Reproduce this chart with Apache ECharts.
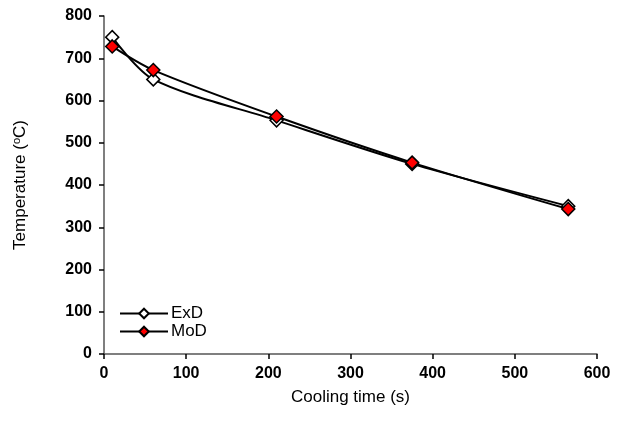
<!DOCTYPE html>
<html>
<head>
<meta charset="utf-8">
<script src="https://cdn.jsdelivr.net/npm/echarts@6/dist/echarts.min.js"></script>
<style>
  html, body { margin: 0; padding: 0; background: #fff; }
  #chart { width: 622px; height: 428px; }
</style>
</head>
<body>
<div id="chart"></div>
<script>
// cooling time (s) and temperatures (C)
var times = [10, 60, 210, 375, 565];
var exdTemps = [750, 650, 553, 450, 350];
var modTemps = [728, 672, 562, 453, 343];
var xTicks = [0, 100, 200, 300, 400, 500, 600];
var yTicks = [0, 100, 200, 300, 400, 500, 600, 700, 800];

function pairs(xs, ys) {
    var out = [];
    for (var i = 0; i < xs.length; i++) out.push([xs[i], ys[i]]);
    return out;
}

var myChart = echarts.init(document.getElementById('chart'));
var axisLine = { lineStyle: { color: '#555', width: 1.5 } };
var labelStyle = { fontFamily: 'Liberation Sans, Arial', fontWeight: 'bold', fontSize: 16, color: '#000' };

var option = {
    animation: false,
    backgroundColor: '#fff',
    grid: { left: 104, right: 25, top: 16, bottom: 74 },
    legend: {
        orient: 'vertical',
        left: 114,
        top: 300,
        itemWidth: 48,
        itemHeight: 12,
        itemGap: 1,
        textStyle: { fontFamily: 'Liberation Sans, Arial', fontSize: 17, color: '#000', padding: [0, 0, 0, -2] },
        data: ['ExD', 'MoD']
    },
    xAxis: {
        type: 'value',
        min: xTicks[0],
        max: xTicks[xTicks.length - 1],
        interval: 100,
        name: 'Cooling time (s)',
        nameLocation: 'middle',
        nameGap: 35,
        nameTextStyle: { fontFamily: 'Liberation Sans, Arial', fontSize: 17, color: '#000' },
        axisLine: axisLine,
        axisTick: { show: true, length: 5, lineStyle: { color: '#000', width: 1.5 } },
        axisLabel: Object.assign({ margin: 12 }, labelStyle),
        splitLine: { show: false }
    },
    yAxis: {
        type: 'value',
        min: yTicks[0],
        max: yTicks[yTicks.length - 1],
        interval: 100,
        name: '{a|Temperature (}{s|o}{a|C)}',
        nameLocation: 'middle',
        nameGap: 74,
        nameTextStyle: {
            rich: {
                a: { fontFamily: 'Liberation Sans, Arial', fontSize: 17, color: '#000' },
                s: { fontFamily: 'Liberation Sans, Arial', fontSize: 11, color: '#000', verticalAlign: 'bottom', padding: [0, 0, 8, 0] }
            }
        },
        axisLine: axisLine,
        axisTick: { show: true, length: 5, lineStyle: { color: '#000', width: 1.5 } },
        axisLabel: Object.assign({ margin: 12 }, labelStyle),
        splitLine: { show: false }
    },
    series: [
        {
            name: 'ExD',
            type: 'line',
            smooth: 0.3,
            symbol: 'diamond',
            symbolSize: 13,
            data: pairs(times, exdTemps),
            lineStyle: { color: '#000', width: 2 },
            itemStyle: { color: '#fff', borderColor: '#000', borderWidth: 1.5 }
        },
        {
            name: 'MoD',
            type: 'line',
            smooth: 0.3,
            symbol: 'diamond',
            symbolSize: 13,
            data: pairs(times, modTemps),
            lineStyle: { color: '#000', width: 2 },
            itemStyle: { color: '#ff0000', borderColor: '#000', borderWidth: 1.5 }
        }
    ]
};
myChart.setOption(option);
</script>
</body>
</html>
